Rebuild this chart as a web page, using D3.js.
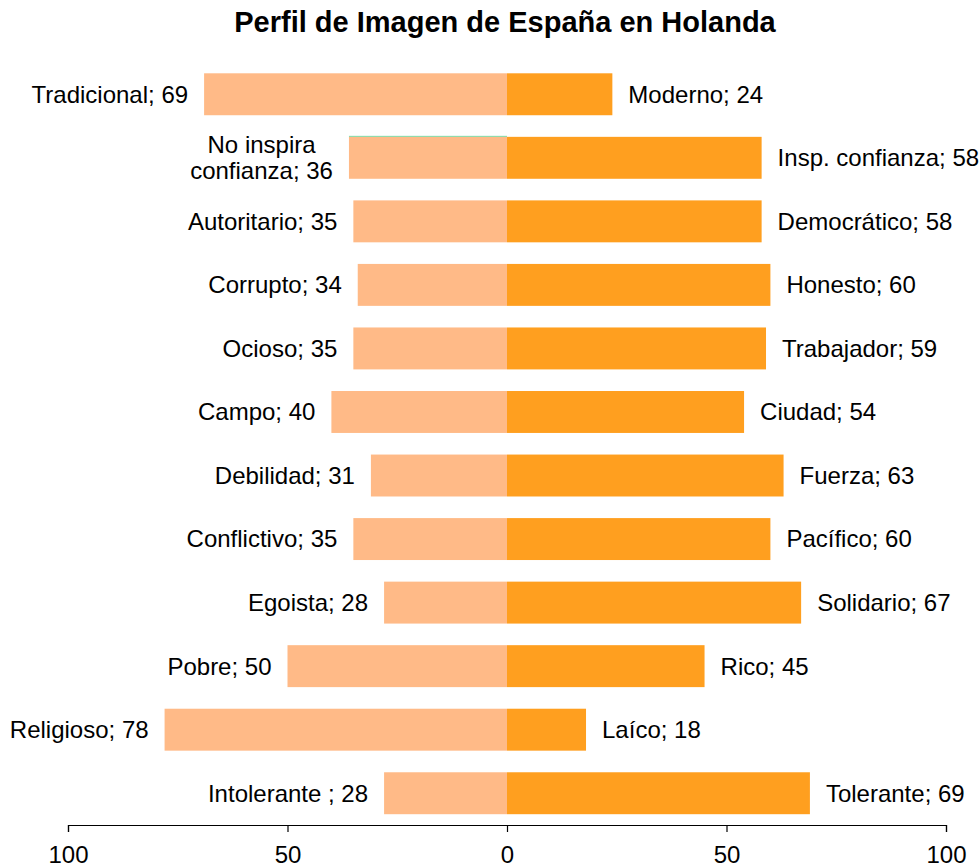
<!DOCTYPE html>
<html>
<head>
<meta charset="utf-8">
<script src="https://cdn.jsdelivr.net/npm/d3@7"></script>
<style>
  body { margin: 0; background: #fff; }
  text { font-family: "Liberation Sans", Arial, sans-serif; fill: #000; }
</style>
</head>
<body>
<script>
// Left (negative) and right (positive) attributes, top to bottom
var leftLabels = ["Tradicional; 69", "No inspira\nconfianza; 36", "Autoritario; 35", "Corrupto; 34", "Ocioso; 35",
                  "Campo; 40", "Debilidad; 31", "Conflictivo; 35", "Egoista; 28", "Pobre; 50",
                  "Religioso; 78", "Intolerante ; 28"];
var leftValues = [69, 36, 35, 34, 35, 40, 31, 35, 28, 50, 78, 28];
var rightLabels = ["Moderno; 24", "Insp. confianza; 58", "Democrático; 58", "Honesto; 60", "Trabajador; 59",
                   "Ciudad; 54", "Fuerza; 63", "Pacífico; 60", "Solidario; 67", "Rico; 45",
                   "Laíco; 18", "Tolerante; 69"];
var rightValues = [24, 58, 58, 60, 59, 54, 63, 60, 67, 45, 18, 69];
var tickValues = [-100, -50, 0, 50, 100];

var width = 979, height = 867;
var colLeft = "#FFBA87", colRight = "#FF9F1F";

var svg = d3.select("body").append("svg")
            .attr("width", width)
            .attr("height", height);

// Scales
var x = d3.scaleLinear().domain([-100, 100]).range([68, 946]);
var y = d3.scaleBand().domain(d3.range(leftValues.length)).range([62.5, 825]).paddingInner(0.34).paddingOuter(0.17);

// Title
svg.append("text")
   .attr("x", 505).attr("y", 32)
   .attr("text-anchor", "middle")
   .style("font-size", "29px").style("font-weight", "bold")
   .text("Perfil de Imagen de España en Holanda");

// Left bars
svg.selectAll("rect.left").data(leftValues).enter().append("rect")
   .attr("class", "left")
   .attr("x", function(d){ return x(-d); })
   .attr("y", function(d, i){ return y(i); })
   .attr("width", function(d){ return x(0) - x(-d); })
   .attr("height", y.bandwidth())
   .attr("fill", colLeft);

// Right bars
svg.selectAll("rect.right").data(rightValues).enter().append("rect")
   .attr("class", "right")
   .attr("x", x(0))
   .attr("y", function(d, i){ return y(i); })
   .attr("width", function(d){ return x(d) - x(0); })
   .attr("height", y.bandwidth())
   .attr("fill", colRight);

// thin green edge on the "No inspira" bar, as in the original
svg.append("line")
   .attr("x1", x(-leftValues[1])).attr("x2", x(0))
   .attr("y1", y(1) - 0.5).attr("y2", y(1) - 0.5)
   .attr("stroke", "#7FD6A0").attr("stroke-width", 1);

// Left labels
leftLabels.forEach(function(lab, i){
  var lines = lab.split("\n");
  var cy = y(i) + y.bandwidth() / 2;
  var xr = x(-leftValues[i]) - 16;
  var t = svg.append("text")
             .style("font-size", "24px")
             .attr("text-anchor", lines.length > 1 ? "middle" : "end");
  lines.forEach(function(l, k){
    t.append("tspan")
     .attr("x", xr)
     .attr("y", cy + (k - (lines.length - 1) / 2) * 26)
     .attr("dy", "0.35em")
     .text(l);
  });
  if (lines.length > 1) {
    var w = t.node().getBBox().width;
    t.selectAll("tspan").attr("x", xr - w / 2);
  }
});

// Right labels
svg.selectAll("text.rlab").data(rightLabels).enter().append("text")
   .attr("class", "rlab")
   .attr("x", function(d, i){ return x(rightValues[i]) + 16; })
   .attr("y", function(d, i){ return y(i) + y.bandwidth() / 2; })
   .attr("dy", "0.35em")
   .style("font-size", "24px")
   .text(function(d){ return d; });

// Axis
var axis = svg.append("g")
   .attr("transform", "translate(0,825)")
   .call(d3.axisBottom(x).tickValues(tickValues).tickSize(7).tickPadding(14)
           .tickFormat(function(d){ return Math.abs(d); }));
axis.select(".domain").attr("stroke", "#000").attr("stroke-width", 1.2);
axis.selectAll(".tick line").attr("stroke", "#000").attr("stroke-width", 1.2);
axis.selectAll(".tick text")
    .style("font-family", "'Liberation Sans', Arial, sans-serif")
    .style("font-size", "24px");
</script>
</body>
</html>
